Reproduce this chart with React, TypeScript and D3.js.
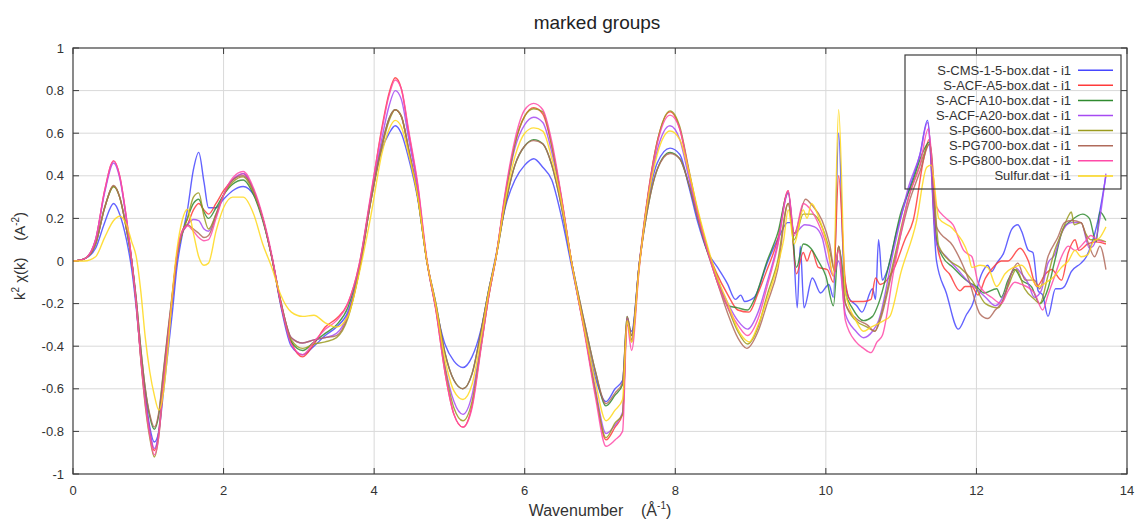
import React from "react";
import * as d3 from "d3";

// ---------- data ----------
const X_TICKS = [0, 2, 4, 6, 8, 10, 12, 14];
const Y_TICKS = [-1, -0.8, -0.6, -0.4, -0.2, 0, 0.2, 0.4, 0.6, 0.8, 1];

const SERIES_NAMES = [
  "S-CMS-1-5-box.dat - i1",
  "S-ACF-A5-box.dat - i1",
  "S-ACF-A10-box.dat - i1",
  "S-ACF-A20-box.dat - i1",
  "S-PG600-box.dat - i1",
  "S-PG700-box.dat - i1",
  "S-PG800-box.dat - i1",
  "Sulfur.dat - i1",
];

// shared wavenumber grid for the smooth part (0 - 8.42)
const K_SMOOTH = [
  0, 0.15, 0.3, 0.42, 0.54, 0.62, 0.71, 0.78, 0.84, 0.9,
  0.96, 1.02, 1.08, 1.14, 1.2, 1.26, 1.32, 1.38, 1.45, 1.52,
  1.6, 1.67, 1.74, 1.8, 1.9, 2.0, 2.12, 2.26, 2.4, 2.52,
  2.64, 2.76, 2.9, 3.05, 3.2, 3.35, 3.5, 3.65, 3.8, 3.95,
  4.1, 4.2, 4.28, 4.36, 4.46, 4.58, 4.7, 4.82, 4.94, 5.06,
  5.18, 5.3, 5.42, 5.52, 5.62, 5.74, 5.87, 6.0, 6.12, 6.24,
  6.36, 6.48, 6.62, 6.8, 6.94, 7.08, 7.2, 7.3, 7.36, 7.42,
  7.52, 7.62, 7.76, 7.93, 8.06, 8.18, 8.3, 8.42,
];

const CMS_SMOOTH = [
  0, 0.01, 0.06, 0.18, 0.27, 0.22, 0.1, -0.04, -0.22, -0.44,
  -0.63, -0.78, -0.85, -0.8, -0.62, -0.43, -0.24, -0.03, 0.12, 0.24,
  0.43, 0.51, 0.37, 0.25, 0.25, 0.29, 0.33, 0.35, 0.31, 0.2,
  0.02, -0.21, -0.4, -0.44, -0.4, -0.35, -0.31, -0.24, -0.05, 0.27,
  0.52, 0.6, 0.635, 0.6, 0.48, 0.29, 0.0, -0.22, -0.39, -0.47,
  -0.5, -0.45, -0.32, -0.14, 0.03, 0.25, 0.38, 0.45, 0.48, 0.44,
  0.38, 0.22, -0.02, -0.33, -0.55, -0.66, -0.6, -0.56, -0.3, -0.33,
  -0.02, 0.24, 0.46, 0.53, 0.5, 0.35, 0.18, 0.05,
];
const A5_SMOOTH = [
  0, 0.01, 0.1, 0.33, 0.47, 0.4, 0.2, 0.0, -0.2, -0.45,
  -0.65, -0.8, -0.89, -0.8, -0.57, -0.37, -0.17, 0.02, 0.13, 0.17,
  0.24, 0.27, 0.24, 0.22, 0.27, 0.33, 0.38, 0.41, 0.33, 0.2,
  0.02, -0.2, -0.38, -0.45, -0.39, -0.31, -0.27, -0.2, -0.02, 0.29,
  0.62, 0.79, 0.86, 0.81, 0.6, 0.35, 0.0, -0.23, -0.52, -0.72,
  -0.78, -0.68, -0.4, -0.17, 0.02, 0.31, 0.55, 0.68, 0.72, 0.69,
  0.54, 0.31, 0.0, -0.34, -0.62, -0.84, -0.78, -0.72, -0.27, -0.37,
  -0.02, 0.27, 0.56, 0.7, 0.62, 0.42, 0.22, 0.06,
];
const A10_SMOOTH = [
  0, 0.01, 0.08, 0.25, 0.35, 0.3, 0.15, 0.0, -0.18, -0.41,
  -0.6, -0.73, -0.79, -0.72, -0.53, -0.34, -0.16, 0.02, 0.13, 0.2,
  0.27, 0.29, 0.23, 0.2, 0.25, 0.31, 0.36, 0.38, 0.31, 0.19,
  0.02, -0.2, -0.38, -0.42, -0.38, -0.34, -0.3, -0.22, -0.03, 0.28,
  0.54, 0.67, 0.71, 0.68, 0.52, 0.3, 0.0, -0.2, -0.43, -0.56,
  -0.6, -0.53, -0.33, -0.14, 0.02, 0.26, 0.45, 0.54, 0.57, 0.55,
  0.45, 0.27, 0.0, -0.3, -0.52, -0.68, -0.63, -0.58, -0.26, -0.35,
  -0.02, 0.22, 0.43, 0.51, 0.48, 0.36, 0.2, 0.05,
];
const A20_SMOOTH = [
  0, 0.01, 0.1, 0.32, 0.46, 0.39, 0.19, 0.0, -0.2, -0.45,
  -0.65, -0.8, -0.88, -0.8, -0.57, -0.37, -0.17, 0.02, 0.13, 0.17,
  0.195, 0.19, 0.15, 0.14, 0.22, 0.31, 0.38, 0.41, 0.33, 0.2,
  0.02, -0.19, -0.36, -0.385, -0.37, -0.36, -0.34, -0.25, -0.04, 0.28,
  0.57, 0.73, 0.8, 0.76, 0.57, 0.33, 0.0, -0.22, -0.49, -0.66,
  -0.72, -0.63, -0.38, -0.16, 0.02, 0.3, 0.53, 0.64, 0.675, 0.65,
  0.51, 0.3, 0.0, -0.33, -0.6, -0.81, -0.77, -0.71, -0.27, -0.37,
  -0.02, 0.26, 0.52, 0.635, 0.57, 0.39, 0.21, 0.06,
];
const PG600_SMOOTH = [
  0, 0.01, 0.08, 0.25, 0.35, 0.3, 0.15, 0.0, -0.2, -0.46,
  -0.68, -0.83, -0.92, -0.82, -0.58, -0.37, -0.17, 0.02, 0.13, 0.2,
  0.3, 0.32, 0.21, 0.15, 0.22, 0.31, 0.37, 0.395, 0.32, 0.2,
  0.02, -0.19, -0.37, -0.41, -0.39, -0.38, -0.36, -0.27, -0.05, 0.27,
  0.53, 0.66, 0.71, 0.68, 0.52, 0.3, 0.0, -0.22, -0.5, -0.69,
  -0.75, -0.66, -0.4, -0.17, 0.02, 0.3, 0.55, 0.68, 0.715, 0.7,
  0.54, 0.31, 0.0, -0.34, -0.62, -0.83, -0.76, -0.72, -0.28, -0.38,
  -0.03, 0.26, 0.56, 0.705, 0.63, 0.43, 0.23, 0.07,
];
const PG700_SMOOTH = [
  0, 0.01, 0.08, 0.25, 0.355, 0.3, 0.15, 0.0, -0.18, -0.41,
  -0.6, -0.72, -0.78, -0.71, -0.52, -0.33, -0.15, 0.03, 0.14, 0.17,
  0.15, 0.13, 0.11, 0.12, 0.21, 0.31, 0.38, 0.4, 0.33, 0.2,
  0.02, -0.19, -0.36, -0.385, -0.37, -0.36, -0.35, -0.26, -0.05, 0.27,
  0.54, 0.67, 0.71, 0.68, 0.52, 0.3, 0.0, -0.2, -0.43, -0.56,
  -0.6, -0.53, -0.33, -0.14, 0.02, 0.26, 0.45, 0.54, 0.565, 0.55,
  0.45, 0.27, 0.0, -0.3, -0.52, -0.67, -0.62, -0.57, -0.26, -0.35,
  -0.02, 0.22, 0.43, 0.505, 0.48, 0.36, 0.2, 0.05,
];
const PG800_SMOOTH = [
  0, 0.01, 0.1, 0.33, 0.47, 0.4, 0.2, 0.0, -0.2, -0.46,
  -0.67, -0.82, -0.91, -0.82, -0.58, -0.37, -0.16, 0.03, 0.14, 0.165,
  0.14, 0.11, 0.095, 0.1, 0.2, 0.31, 0.39, 0.42, 0.34, 0.21,
  0.03, -0.2, -0.39, -0.44, -0.38, -0.32, -0.28, -0.2, -0.02, 0.3,
  0.61, 0.78, 0.85, 0.81, 0.61, 0.36, 0.01, -0.23, -0.52, -0.72,
  -0.78, -0.69, -0.41, -0.17, 0.02, 0.32, 0.57, 0.71, 0.74, 0.71,
  0.56, 0.32, 0.0, -0.35, -0.64, -0.87, -0.84, -0.8, -0.3, -0.42,
  -0.04, 0.26, 0.55, 0.685, 0.62, 0.42, 0.22, 0.06,
];
const SULFUR_SMOOTH = [
  0, 0.0, 0.02, 0.11, 0.19, 0.21, 0.17, 0.09, 0.02, -0.14,
  -0.36, -0.52, -0.63, -0.7, -0.62, -0.42, -0.15, 0.05, 0.19, 0.243,
  0.13, 0.02, -0.02, -0.01, 0.14, 0.25, 0.3, 0.3, 0.22, 0.08,
  -0.03, -0.16, -0.24, -0.26, -0.255, -0.29, -0.31, -0.26, -0.06, 0.2,
  0.5, 0.62, 0.66, 0.63, 0.5, 0.3, 0.0, -0.21, -0.46, -0.61,
  -0.65, -0.58, -0.36, -0.15, 0.02, 0.28, 0.49, 0.6, 0.625, 0.61,
  0.48, 0.29, 0.0, -0.33, -0.57, -0.75, -0.7, -0.65, -0.28, -0.38,
  -0.03, 0.25, 0.5, 0.61, 0.57, 0.42, 0.24, 0.08,
];

// noisy high-k part (k, value)
const CMS_TAIL: [number, number][] = [
  [8.57, -0.035], [8.69, -0.105], [8.8, -0.18], [8.87, -0.16], [8.92, -0.19], [9.05, -0.17],
  [9.22, -0.01], [9.4, 0.13], [9.49, 0.18], [9.55, 0.18], [9.62, -0.22], [9.66, 0.07],
  [9.71, -0.22], [9.82, -0.08], [9.93, -0.15], [10.04, -0.11], [10.1, -0.17], [10.17, 0.6],
  [10.24, -0.05], [10.3, -0.17], [10.41, -0.21], [10.48, -0.24], [10.62, -0.13], [10.66, -0.18],
  [10.7, 0.1], [10.75, -0.09], [10.81, -0.05], [10.95, 0.15], [11.1, 0.33], [11.25, 0.5],
  [11.35, 0.66], [11.47, 0.0], [11.6, -0.15], [11.76, -0.32], [11.87, -0.25], [11.94, -0.21],
  [12.07, -0.06], [12.15, -0.02], [12.2, -0.05], [12.27, -0.01], [12.36, 0.036], [12.47, 0.15],
  [12.55, 0.17], [12.6, 0.14], [12.69, 0.05], [12.75, 0.04], [12.82, -0.14], [12.88, -0.16],
  [12.95, -0.26], [13.05, -0.13], [13.12, -0.13], [13.17, -0.12], [13.26, -0.05], [13.39, -0.01],
  [13.46, 0.02], [13.52, 0.07], [13.62, 0.2], [13.72, 0.4],
];
const A5_TAIL: [number, number][] = [
  [8.54, -0.05], [8.7, -0.16], [8.83, -0.23], [8.98, -0.24], [9.1, -0.15], [9.22, -0.04],
  [9.36, 0.1], [9.5, 0.33], [9.61, -0.06], [9.7, 0.04], [9.75, 0.0], [9.81, 0.05],
  [9.9, -0.03], [10.02, -0.04], [10.1, -0.1], [10.17, 0.4], [10.26, -0.1], [10.34, -0.19],
  [10.5, -0.19], [10.6, -0.18], [10.66, -0.08], [10.72, -0.11], [10.9, -0.04], [11.05, 0.1],
  [11.16, 0.19], [11.3, 0.48], [11.37, 0.57], [11.45, 0.15], [11.55, -0.02], [11.64, -0.06],
  [11.78, -0.14], [11.85, -0.12], [11.94, -0.12], [12.02, -0.16], [12.12, -0.08], [12.2, -0.04],
  [12.33, 0.0], [12.42, 0.0], [12.58, 0.06], [12.69, 0.0], [12.8, -0.12], [12.92, -0.06],
  [13.0, -0.04], [13.13, -0.09], [13.22, 0.04], [13.31, 0.1], [13.36, 0.05], [13.48, 0.08],
  [13.59, 0.09], [13.72, 0.08],
];
const A10_TAIL: [number, number][] = [
  [8.54, -0.06], [8.7, -0.21], [8.83, -0.22], [8.96, -0.23], [9.05, -0.18], [9.22, 0.0],
  [9.36, 0.13], [9.5, 0.32], [9.61, -0.03], [9.7, 0.08], [9.8, 0.06], [9.9, 0.0],
  [10.0, -0.07], [10.1, -0.21], [10.17, 0.07], [10.26, -0.15], [10.35, -0.22], [10.5, -0.28],
  [10.62, -0.26], [10.7, -0.2], [10.85, 0.0], [10.99, 0.22], [11.15, 0.37], [11.3, 0.52],
  [11.38, 0.56], [11.47, 0.1], [11.55, 0.02], [11.69, -0.03], [11.8, -0.07], [11.9, -0.1],
  [12.0, -0.12], [12.1, -0.15], [12.27, -0.13], [12.33, -0.17], [12.42, -0.09], [12.51, -0.04],
  [12.6, -0.09], [12.73, -0.12], [12.84, -0.2], [12.95, -0.13], [13.04, 0.0], [13.15, 0.15],
  [13.26, 0.19], [13.41, 0.22], [13.5, 0.2], [13.59, 0.09], [13.64, 0.23], [13.72, 0.19],
];
const A20_TAIL: [number, number][] = [
  [8.54, -0.07], [8.7, -0.2], [8.83, -0.28], [8.96, -0.32], [9.1, -0.24], [9.22, -0.1],
  [9.36, 0.08], [9.5, 0.32], [9.58, 0.13], [9.72, 0.17], [9.85, 0.16], [9.95, 0.11],
  [10.02, 0.0], [10.1, -0.07], [10.17, 0.0], [10.26, -0.25], [10.4, -0.33], [10.5, -0.36],
  [10.62, -0.33], [10.7, -0.28], [10.9, 0.05], [11.1, 0.35], [11.25, 0.5], [11.35, 0.65],
  [11.47, 0.08], [11.6, 0.02], [11.75, -0.04], [11.9, -0.1], [12.0, -0.13], [12.12, -0.17],
  [12.25, -0.21], [12.38, -0.15], [12.51, -0.03], [12.6, -0.06], [12.68, -0.1], [12.77, -0.17],
  [12.86, -0.14], [12.95, -0.01], [13.04, 0.03], [13.13, 0.13], [13.26, 0.18], [13.39, 0.18],
  [13.5, 0.06], [13.55, 0.07], [13.72, 0.41],
];
const PG600_TAIL: [number, number][] = [
  [8.54, -0.08], [8.7, -0.22], [8.83, -0.33], [8.96, -0.39], [9.1, -0.31], [9.22, -0.16],
  [9.36, 0.0], [9.5, 0.27], [9.58, 0.1], [9.7, 0.22], [9.82, 0.22], [9.95, 0.16],
  [10.05, 0.05], [10.12, -0.05], [10.17, 0.07], [10.26, -0.2], [10.4, -0.28], [10.55, -0.31],
  [10.65, -0.33], [10.72, -0.27], [10.9, 0.0], [11.1, 0.3], [11.25, 0.45], [11.38, 0.55],
  [11.5, 0.07], [11.65, 0.0], [11.78, -0.03], [11.94, -0.09], [12.12, -0.2], [12.29, -0.22],
  [12.42, -0.12], [12.53, -0.04], [12.64, -0.13], [12.77, -0.18], [12.84, -0.2], [12.95, -0.07],
  [13.04, 0.05], [13.13, 0.13], [13.22, 0.21], [13.26, 0.23], [13.3, 0.17], [13.39, 0.18],
  [13.45, 0.13], [13.52, 0.1], [13.62, 0.1], [13.72, 0.09],
];
const PG700_TAIL: [number, number][] = [
  [8.54, -0.08], [8.7, -0.25], [8.83, -0.36], [8.95, -0.41], [9.1, -0.33], [9.22, -0.2],
  [9.36, -0.04], [9.5, 0.27], [9.58, 0.13], [9.73, 0.29], [9.82, 0.26], [9.95, 0.19],
  [10.05, 0.08], [10.12, -0.05], [10.17, 0.07], [10.26, -0.2], [10.4, -0.27], [10.55, -0.3],
  [10.65, -0.33], [10.72, -0.28], [10.9, -0.02], [11.1, 0.27], [11.25, 0.42], [11.38, 0.55],
  [11.47, 0.16], [11.69, 0.07], [11.9, -0.09], [12.05, -0.25], [12.15, -0.27], [12.25, -0.23],
  [12.36, -0.18], [12.46, -0.06], [12.55, -0.01], [12.65, -0.09], [12.77, -0.09], [12.84, -0.13],
  [12.95, 0.02], [13.08, 0.11], [13.17, 0.18], [13.26, 0.19], [13.39, 0.18], [13.48, 0.09],
  [13.57, 0.02], [13.64, 0.07], [13.72, -0.04],
];
const PG800_TAIL: [number, number][] = [
  [8.54, -0.08], [8.7, -0.22], [8.83, -0.3], [8.96, -0.35], [9.1, -0.27], [9.22, -0.12],
  [9.36, 0.07], [9.5, 0.33], [9.58, 0.12], [9.7, 0.27], [9.8, 0.24], [9.92, 0.16],
  [10.02, 0.06], [10.1, -0.07], [10.17, 0.05], [10.26, -0.28], [10.4, -0.38], [10.5, -0.41],
  [10.6, -0.43], [10.68, -0.38], [10.75, -0.35], [10.9, -0.05], [11.1, 0.3], [11.25, 0.45],
  [11.36, 0.62], [11.47, 0.255], [11.6, 0.2], [11.69, 0.17], [11.83, 0.05], [11.9, 0.03],
  [11.94, 0.02], [12.02, -0.1], [12.12, -0.15], [12.2, -0.17], [12.33, -0.2], [12.42, -0.14],
  [12.51, -0.1], [12.6, -0.11], [12.77, -0.15], [12.88, -0.23], [12.95, -0.16], [13.04, -0.07],
  [13.13, 0.02], [13.22, 0.07], [13.31, 0.05], [13.44, 0.09], [13.52, 0.12], [13.6, 0.1],
  [13.7, 0.09],
];
const SULFUR_TAIL: [number, number][] = [
  [8.54, -0.06], [8.7, -0.2], [8.83, -0.32], [8.93, -0.37], [8.98, -0.38], [9.1, -0.3],
  [9.22, -0.18], [9.36, -0.02], [9.44, 0.1], [9.5, 0.24], [9.58, 0.08], [9.7, 0.24],
  [9.75, 0.2], [9.81, 0.27], [9.9, 0.21], [10.02, 0.07], [10.1, -0.07], [10.17, 0.71],
  [10.26, -0.15], [10.4, -0.28], [10.5, -0.33], [10.6, -0.31], [10.77, -0.28], [10.85, -0.26],
  [11.0, -0.05], [11.2, 0.18], [11.34, 0.44], [11.4, 0.45], [11.5, 0.2], [11.69, 0.15],
  [11.9, 0.02], [11.94, -0.03], [12.05, -0.02], [12.15, -0.03], [12.27, -0.12], [12.38, -0.06],
  [12.49, -0.03], [12.6, -0.02], [12.71, -0.07], [12.82, -0.12], [12.93, -0.1], [13.04, -0.07],
  [13.13, -0.03], [13.22, 0.0], [13.31, 0.05], [13.39, 0.02], [13.48, 0.03], [13.55, 0.09],
  [13.64, 0.11], [13.72, 0.16],
];

const SMOOTH_VALUES = [
  CMS_SMOOTH, A5_SMOOTH, A10_SMOOTH, A20_SMOOTH,
  PG600_SMOOTH, PG700_SMOOTH, PG800_SMOOTH, SULFUR_SMOOTH,
];
const TAIL_VALUES = [
  CMS_TAIL, A5_TAIL, A10_TAIL, A20_TAIL,
  PG600_TAIL, PG700_TAIL, PG800_TAIL, SULFUR_TAIL,
];

// ---------- styles ----------
const COLORS = [
  "#4646ff", "#ff3a3a", "#2f8a2f", "#a64af2",
  "#9a9a1e", "#b06a5a", "#ff4aa8", "#ffd81a",
];

const W = 1137;
const H = 520;
const PLOT = { left: 73, right: 1127, top: 48, bottom: 474 };
const FONT = "'Liberation Sans', Arial, sans-serif";

export default function App() {
  const x = d3.scaleLinear().domain([0, 14]).range([PLOT.left, PLOT.right]);
  const y = d3.scaleLinear().domain([-1, 1]).range([PLOT.bottom, PLOT.top]);

  const line = d3
    .line<[number, number]>()
    .x((d) => x(d[0]))
    .y((d) => y(d[1]))
    .curve(d3.curveMonotoneX);

  const series = SERIES_NAMES.map((name, i) => {
    const smooth: [number, number][] = K_SMOOTH.map((k, j) => [k, SMOOTH_VALUES[i][j]]);
    const pts = smooth.concat(TAIL_VALUES[i]).filter((p) => Number.isFinite(p[1]));
    return { name, color: COLORS[i], pts };
  });

  const tickLen = 6;
  const frame = "#3c3c3c";
  const grid = "#d9d9d9";

  const legendX = 905;
  const legendY = 55;
  const legendW = 216;
  const legendH = 134;
  const rowH = 15.1;

  return (
    <svg
      width={W}
      height={H}
      style={{ position: "absolute", left: 0, top: 0, background: "#fff" }}
      fontFamily={FONT}
    >
      <rect x={0} y={0} width={W} height={H} fill="#fff" />
      {/* grid */}
      {X_TICKS.filter((t) => t > 0 && t < 14).map((t) => (
        <line key={"gx" + t} x1={x(t)} x2={x(t)} y1={PLOT.top} y2={PLOT.bottom} stroke={grid} strokeWidth={1} />
      ))}
      {Y_TICKS.filter((t) => t > -1 && t < 1).map((t) => (
        <line key={"gy" + t} x1={PLOT.left} x2={PLOT.right} y1={y(t)} y2={y(t)} stroke={grid} strokeWidth={1} />
      ))}
      {/* ticks */}
      {X_TICKS.map((t) => (
        <g key={"tx" + t}>
          <line x1={x(t)} x2={x(t)} y1={PLOT.bottom} y2={PLOT.bottom - tickLen} stroke={frame} />
          <line x1={x(t)} x2={x(t)} y1={PLOT.top} y2={PLOT.top + tickLen} stroke={frame} />
          <text x={x(t)} y={PLOT.bottom + 21} textAnchor="middle" fontSize={13} fill="#333">
            {t}
          </text>
        </g>
      ))}
      {Y_TICKS.map((t) => (
        <g key={"ty" + t}>
          <line x1={PLOT.left} x2={PLOT.left + tickLen} y1={y(t)} y2={y(t)} stroke={frame} />
          <line x1={PLOT.right} x2={PLOT.right - tickLen} y1={y(t)} y2={y(t)} stroke={frame} />
          <text x={PLOT.left - 9} y={y(t)} dy="0.35em" textAnchor="end" fontSize={13} fill="#333">
            {t}
          </text>
        </g>
      ))}
      {/* data */}
      <g>
        {series.map((s) => (
          <path
            key={s.name}
            d={line(s.pts) || ""}
            fill="none"
            stroke={s.color}
            strokeWidth={1.4}
            strokeOpacity={0.85}
            strokeLinejoin="round"
          />
        ))}
      </g>
      {/* frame */}
      <rect
        x={PLOT.left}
        y={PLOT.top}
        width={PLOT.right - PLOT.left}
        height={PLOT.bottom - PLOT.top}
        fill="none"
        stroke={frame}
        strokeWidth={1.2}
      />
      {/* legend */}
      <rect x={legendX} y={legendY} width={legendW} height={legendH} fill="none" stroke={frame} strokeWidth={1.2} />
      {series.map((s, i) => {
        const cy = legendY + 15.2 + i * rowH;
        return (
          <g key={"lg" + i}>
            <text x={1071} y={cy} dy="0.35em" textAnchor="end" fontSize={13} fill="#333">
              {s.name}
            </text>
            <line x1={1078} x2={1113} y1={cy} y2={cy} stroke={s.color} strokeWidth={1.5} />
          </g>
        );
      })}
      {/* title */}
      <text x={597} y={29} textAnchor="middle" fontSize={19} fill="#222">
        marked groups
      </text>
      {/* axis labels */}
      <text x={600} y={516} textAnchor="middle" fontSize={16} fill="#333" xmlSpace="preserve">
        {"Wavenumber    (\u00C5"}
        <tspan fontSize={10} dy={-7}>-1</tspan>
        <tspan dy={7}>)</tspan>
      </text>
      <text
        transform={`translate(25, ${256}) rotate(-90)`}
        textAnchor="middle"
        fontSize={15}
        fill="#333"
        xmlSpace="preserve"
      >
        {"k"}
        <tspan fontSize={10} dy={-6}>2</tspan>
        <tspan dy={6}>{" \u03C7(k)    (A"}</tspan>
        <tspan fontSize={10} dy={-6}>-2</tspan>
        <tspan dy={6}>)</tspan>
      </text>
    </svg>
  );
}
